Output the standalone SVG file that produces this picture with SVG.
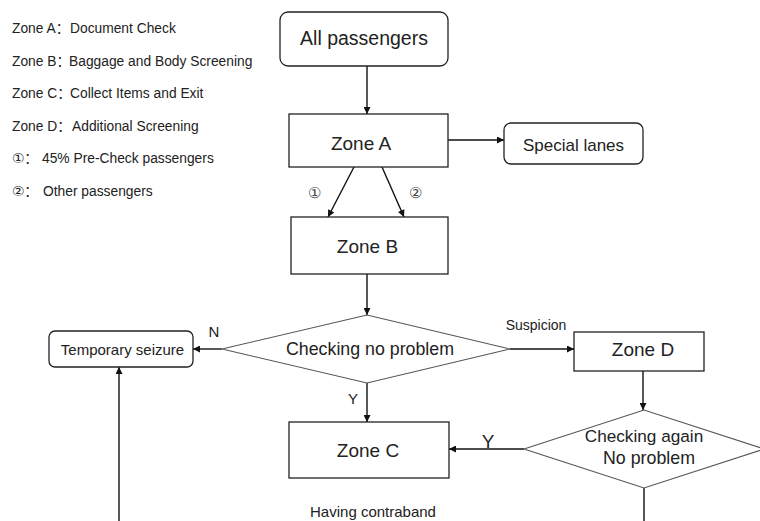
<svg xmlns="http://www.w3.org/2000/svg" width="760" height="521" viewBox="0 0 760 521">
<defs>
<marker id="ah" viewBox="0 0 10 10" refX="10" refY="5" markerWidth="9" markerHeight="7" markerUnits="userSpaceOnUse" orient="auto"><path d="M0,0 L10,5 L0,10 z" fill="#111"/></marker>
<style>
text{font-family:"Liberation Sans","DejaVu Sans","Noto Sans CJK SC",sans-serif;fill:#222;}
.box{fill:#fff;stroke:#222;stroke-width:1.3;}
.dia{fill:#fff;stroke:#555;stroke-width:1.1;}
.c{stroke:#111;stroke-width:1.4;fill:none;}
.a{marker-end:url(#ah);}
.leg{font-size:13.8px;}
.m{text-anchor:middle;}
</style>
</defs>
<rect width="760" height="521" fill="#fff"/>
<g id="legend" class="leg">
<text x="12" y="33">Zone A：<tspan x="70">Document Check</tspan></text>
<text x="12" y="66">Zone B：<tspan x="69">Baggage and Body Screening</tspan></text>
<text x="12" y="98">Zone C：<tspan x="70">Collect Items and Exit</tspan></text>
<text x="12" y="131">Zone D：<tspan x="72">Additional Screening</tspan></text>
<text x="12" y="163">①：<tspan x="42">45% Pre-Check passengers</tspan></text>
<text x="12" y="196">②：<tspan x="43">Other passengers</tspan></text>
</g>
<g id="connectors">
<line class="c a" x1="367" y1="66" x2="367" y2="114"/>
<line class="c a" x1="448" y1="140" x2="504" y2="140"/>
<line class="c a" x1="354" y1="167" x2="328" y2="217"/>
<line class="c a" x1="382" y1="167" x2="404" y2="217"/>
<line class="c a" x1="367" y1="274" x2="367" y2="315"/>
<line class="c a" x1="222" y1="349" x2="193" y2="349"/>
<line class="c a" x1="119" y1="521" x2="119" y2="367"/>
<line class="c a" x1="367" y1="383" x2="367" y2="422"/>
<line class="c a" x1="510" y1="349" x2="574" y2="349"/>
<line class="c a" x1="643" y1="371" x2="643" y2="410"/>
<line class="c a" x1="524" y1="449" x2="449" y2="449"/>
<line class="c" x1="644" y1="488" x2="644" y2="521"/>
<text x="314" y="198" class="m" style="font-family:'DejaVu Serif','Liberation Serif',serif;font-size:15px;fill:#444">①</text>
<text x="415" y="198" class="m" style="font-family:'DejaVu Serif','Liberation Serif',serif;font-size:15px;fill:#444">②</text>
<text x="214" y="337" class="m" style="font-size:15px">N</text>
<text x="353" y="404" class="m" style="font-size:15px">Y</text>
<text x="488" y="448" class="m" style="font-size:19px">Y</text>
<text x="536" y="330" class="m" style="font-size:14px">Suspicion</text>
<text x="373" y="517" class="m" style="font-size:15px">Having contraband</text>
</g>
<g id="all-passengers">
<rect class="box" x="280" y="12" width="168" height="54" rx="8"/>
<text x="364" y="45" class="m" style="font-size:19.5px">All passengers</text>
</g>
<g id="zone-a">
<rect class="box" x="289" y="114" width="159" height="53"/>
<text x="361" y="150" class="m" style="font-size:19px">Zone A</text>
</g>
<g id="special-lanes">
<rect class="box" x="504" y="123" width="139" height="41" rx="7"/>
<text x="573.5" y="151" class="m" style="font-size:17px">Special lanes</text>
</g>
<g id="zone-b">
<rect class="box" x="291" y="217" width="157" height="57"/>
<text x="367.5" y="253" class="m" style="font-size:19px">Zone B</text>
</g>
<g id="check-1">
<polygon class="dia" points="222,349 367,315 510,349 367,383"/>
<text x="370" y="355" class="m" style="font-size:17.8px">Checking no problem</text>
</g>
<g id="temporary-seizure">
<rect class="box" x="49" y="331" width="144" height="36" rx="6"/>
<text x="122.5" y="355" class="m" style="font-size:15px">Temporary seizure</text>
</g>
<g id="zone-d">
<rect class="box" x="574" y="332" width="130" height="39"/>
<text x="643" y="356" class="m" style="font-size:19px">Zone D</text>
</g>
<g id="zone-c">
<rect class="box" x="289" y="422" width="160" height="56"/>
<text x="368" y="457" class="m" style="font-size:19px">Zone C</text>
</g>
<g id="check-2">
<polygon class="dia" points="524,449 644,410 764,449 644,488"/>
<text x="644" y="442" class="m" style="font-size:17.2px">Checking again</text>
<text x="649" y="464" class="m" style="font-size:17.8px">No problem</text>
</g>
</svg>
